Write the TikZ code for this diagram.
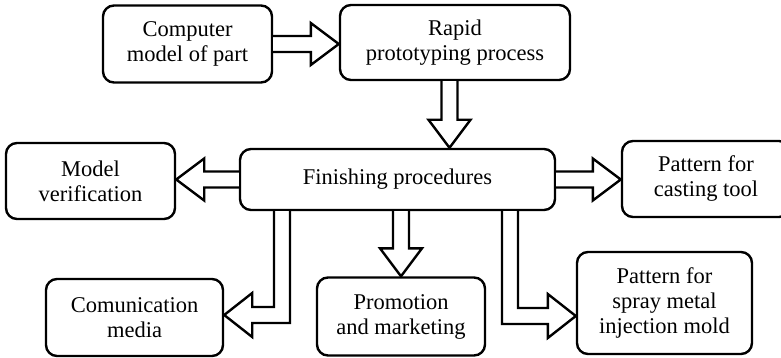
\documentclass[tikz,border=0pt]{standalone}
\usepackage{fontspec}
\setmainfont{Liberation Serif}
\usetikzlibrary{calc}
\tikzset{
  box/.style={draw, line width=2.4pt, rounded corners=11pt, align=center, inner sep=0pt,
    font=\fontsize{22.5}{25}\selectfont},
  blk/.style={draw, line width=2.4pt, line join=miter, fill=white},
}
\newcommand{\blockarr}[2]{%
  \coordinate (hb) at ($(#2)!28pt!(#1)$);
  \draw[blk] ($(#1)!8pt!90:(#2)$) -- ($(hb)!8pt!-90:(#1)$) -- ($(hb)!21pt!-90:(#1)$) -- (#2)
    -- ($(hb)!21pt!90:(#1)$) -- ($(hb)!8pt!90:(#1)$) -- ($(#1)!8pt!-90:(#2)$);
}
\begin{document}
\begin{tikzpicture}[x=1pt,y=-1pt]
\useasboundingbox (0,0) rectangle (781,358);
\begin{scope}
\clip (0,0) rectangle (781,358);
\node[box, minimum width=169pt, minimum height=77pt] (cmp) at (187.5,44) {Computer\\model of part};
\node[box, minimum width=230pt, minimum height=75pt] (rap) at (455,42.5) {Rapid\\prototyping process};
\node[box, minimum width=315pt, minimum height=61pt] (fin) at (397.5,179.5) {Finishing procedures};
\node[box, minimum width=169pt, minimum height=76pt] (mv) at (90.5,181) {Model\\verification};
\node[box, minimum width=168pt, minimum height=76pt] (cast) at (706,179) {Pattern for\\casting tool};
\node[box, minimum width=177pt, minimum height=77pt] (com) at (134.5,317.5) {Comunication\\media};
\node[box, minimum width=168pt, minimum height=78pt] (prom) at (401,316.5) {Promotion\\and marketing};
\node[box, minimum width=175pt, minimum height=102pt] (spr) at (664.5,303) {Pattern for\\spray metal\\injection mold};
\end{scope}

% straight arrows
\coordinate (a1t) at (rap.west |- cmp.east);
\blockarr{cmp.east}{a1t}
\coordinate (a2s) at ($(rap.south)+(-5.5,0)$);
\coordinate (a2t) at (a2s |- fin.north);
\blockarr{a2s}{a2t}
\coordinate (a3t) at (mv.east |- fin.west);
\blockarr{fin.west}{a3t}
\coordinate (a4t) at (cast.west |- fin.east);
\blockarr{fin.east}{a4t}
\coordinate (a5s) at (prom.north |- fin.south);
\blockarr{a5s}{prom.north}

% elbow arrow to communication media
\coordinate (e1s) at (282,0 |- fin.south);
\coordinate (e1k) at (282,315);
\coordinate (e1t) at (com.east |- e1k);
\draw[blk] ($(e1s)+(8,0)$) -- ($(e1k)+(8,8)$) -- ($(e1t)+(28,8)$) -- ($(e1t)+(28,22)$) -- (e1t)
  -- ($(e1t)+(28,-22)$) -- ($(e1t)+(28,-8)$) -- ($(e1k)+(-8,-8)$) -- ($(e1s)+(-8,0)$);

% elbow arrow to spray metal injection mold
\coordinate (e2s) at (510,0 |- fin.south);
\coordinate (e2k) at (510,316);
\coordinate (e2t) at (spr.west |- e2k);
\draw[blk] ($(e2s)+(-8,0)$) -- ($(e2k)+(-8,8)$) -- ($(e2t)+(-28,8)$) -- ($(e2t)+(-28,22)$) -- (e2t)
  -- ($(e2t)+(-28,-22)$) -- ($(e2t)+(-28,-8)$) -- ($(e2k)+(8,-8)$) -- ($(e2s)+(8,0)$);
\end{tikzpicture}
\end{document}
